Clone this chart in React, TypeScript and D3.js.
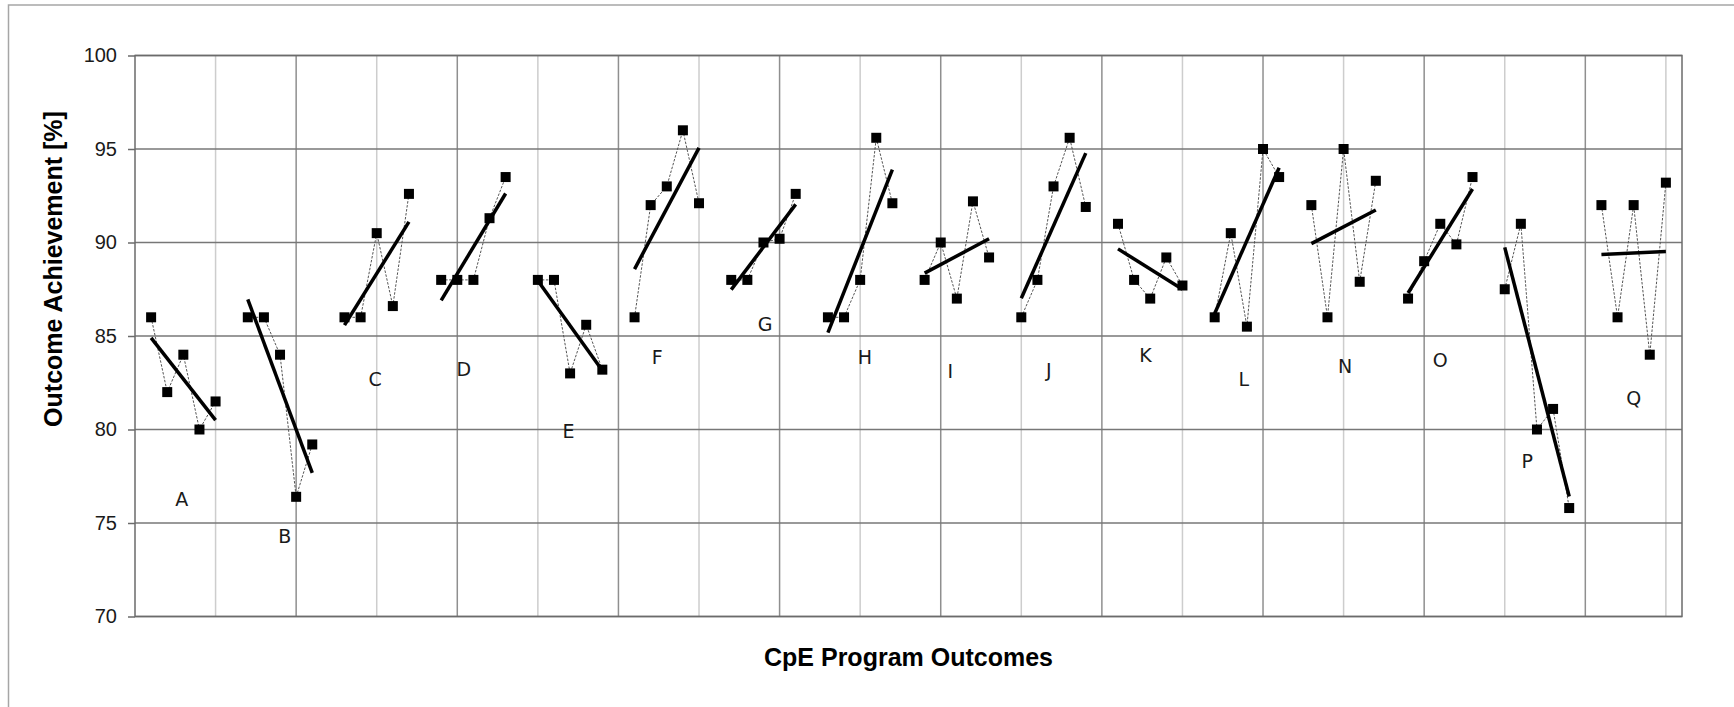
import React, { useEffect, useRef } from 'react';
import * as d3 from 'd3';

// outcome letters (there is no M)
const OUTCOMES = ['A', 'B', 'C', 'D', 'E', 'F', 'G', 'H', 'I', 'J', 'K', 'L', 'N', 'O', 'P', 'Q'];

// five assessment results per outcome [%]
const SCORES: number[][] = [
    [86, 82, 84, 80, 81.5],
    [86, 86, 84, 76.4, 79.2],
    [86, 86, 90.5, 86.6, 92.6],
    [88, 88, 88, 91.3, 93.5],
    [88, 88, 83, 85.6, 83.2],
    [86, 92, 93, 96, 92.1],
    [88, 88, 90, 90.2, 92.6],
    [86, 86, 88, 95.6, 92.1],
    [88, 90, 87, 92.2, 89.2],
    [86, 88, 93, 95.6, 91.9],
    [91, 88, 87, 89.2, 87.7],
    [86, 90.5, 85.5, 95, 93.5],
    [92, 86, 95, 87.9, 93.3],
    [87, 89, 91, 89.9, 93.5],
    [87.5, 91, 80, 81.1, 75.8],
    [92, 86, 92, 84, 93.2],
];

// where each letter sits (slot on the category axis, value on the y axis)
const LABEL_SLOT = [2.9, 9.3, 14.9, 20.4, 26.9, 32.4, 39.1, 45.3, 50.6, 56.7, 62.7, 68.8, 75.1, 81.0, 86.4, 93.0];
const LABEL_VALUE = [76.3, 74.3, 82.7, 83.25, 79.9, 83.85, 85.65, 83.85, 83.1, 83.2, 83.95, 82.7, 83.4, 83.7, 78.3, 81.7];

const Y_TICKS = [70, 75, 80, 85, 90, 95, 100];
const SLOTS = 96;

const WIDTH = 1734;
const HEIGHT = 707;
const PLOT = { left: 135, right: 1682, top: 55.5, bottom: 616.5 };

const SANS = '"Liberation Sans", Arial, sans-serif';

const App: React.FC = () => {
    const svgRef = useRef<SVGSVGElement>(null);

    useEffect(() => {
        if (!svgRef.current) return;
        const svg = d3.select(svgRef.current);
        svg.selectAll('*').remove();

        const x = d3.scaleLinear().domain([0, SLOTS]).range([PLOT.left, PLOT.right]);
        const y = d3.scaleLinear().domain([70, 100]).range([PLOT.bottom, PLOT.top]);

        // outer frame of the figure (cropped at right/bottom)
        svg.append('rect')
            .attr('x', 8.5).attr('y', 5)
            .attr('width', 2000).attr('height', 1000)
            .attr('fill', 'none')
            .attr('stroke', '#a6a6a6')
            .attr('stroke-width', 1.5);

        // vertical grid
        svg.append('g').selectAll('line')
            .data(d3.range(5, SLOTS, 5))
            .enter().append('line')
            .attr('x1', d => x(d)).attr('x2', d => x(d))
            .attr('y1', PLOT.top).attr('y2', PLOT.bottom)
            .attr('stroke', d => (d % 10 === 0 ? '#8f8f8f' : '#cdcdcd'))
            .attr('stroke-width', 1.5);

        // horizontal grid
        svg.append('g').selectAll('line')
            .data(Y_TICKS)
            .enter().append('line')
            .attr('x1', PLOT.left).attr('x2', PLOT.right)
            .attr('y1', d => y(d)).attr('y2', d => y(d))
            .attr('stroke', '#777')
            .attr('stroke-width', 1.5);

        svg.append('rect')
            .attr('x', PLOT.left).attr('y', PLOT.top)
            .attr('width', PLOT.right - PLOT.left)
            .attr('height', PLOT.bottom - PLOT.top)
            .attr('fill', 'none')
            .attr('stroke', '#6b6b6b')
            .attr('stroke-width', 1.5);

        // y axis
        const yAxis = svg.append('g')
            .attr('transform', `translate(${PLOT.left},0)`)
            .call(d3.axisLeft(y).tickValues(Y_TICKS).tickSize(7).tickPadding(11).tickSizeOuter(0));
        yAxis.select('.domain').remove();
        yAxis.selectAll('line').attr('stroke', '#6b6b6b').attr('stroke-width', 1.5);
        yAxis.selectAll('text')
            .style('font-family', SANS)
            .style('font-size', '20px')
            .style('fill', '#1a1a1a');

        const groups = svg.append('g').selectAll('g')
            .data(SCORES.map((vals, g) => ({ g, vals })))
            .enter().append('g');

        const slotOf = (g: number, i: number) => g * 6 + i + 1;

        // dotted connector
        const connector = d3.line<[number, number]>().x(d => x(d[0])).y(d => y(d[1]));
        groups.append('path')
            .attr('d', d => connector(d.vals.map((v, i) => [slotOf(d.g, i), v] as [number, number])))
            .attr('fill', 'none')
            .attr('stroke', '#555')
            .attr('stroke-width', 1)
            .attr('stroke-dasharray', '2.5,1.5');

        // markers
        const M = 10;
        groups.selectAll('rect')
            .data(d => d.vals.map((v, i) => ({ s: slotOf(d.g, i), v })))
            .enter().append('rect')
            .attr('x', d => x(d.s) - M / 2)
            .attr('y', d => y(d.v) - M / 2)
            .attr('width', M).attr('height', M)
            .attr('fill', '#000');

        // least-squares trend line across each group
        groups.append('line')
            .each(function (d) {
                const xs = d.vals.map((_, i) => i);
                const mx = d3.mean(xs)!;
                const my = d3.mean(d.vals)!;
                const slope = d3.sum(xs, (xi, i) => (xi - mx) * (d.vals[i] - my)) / d3.sum(xs, xi => (xi - mx) ** 2);
                const at = (xi: number) => my + slope * (xi - mx);
                d3.select(this)
                    .attr('x1', x(slotOf(d.g, 0))).attr('y1', y(at(0)))
                    .attr('x2', x(slotOf(d.g, 4))).attr('y2', y(at(4)));
            })
            .attr('stroke', '#000')
            .attr('stroke-width', 3.5)
            .attr('stroke-linecap', 'butt');

        // outcome letters
        svg.append('g').selectAll('text')
            .data(OUTCOMES)
            .enter().append('text')
            .attr('x', (_, i) => x(LABEL_SLOT[i]))
            .attr('y', (_, i) => y(LABEL_VALUE[i]))
            .attr('dy', '0.36em')
            .attr('text-anchor', 'middle')
            .text(d => d)
            .style('font-family', '"DejaVu Sans", Verdana, sans-serif')
            .style('font-size', '19px')
            .style('fill', '#1a1a1a');

        // axis titles
        svg.append('text')
            .attr('x', (PLOT.left + PLOT.right) / 2)
            .attr('y', 666)
            .attr('text-anchor', 'middle')
            .text('CpE Program Outcomes')
            .style('font-family', SANS)
            .style('font-size', '25px')
            .style('font-weight', 'bold')
            .style('fill', '#000');

        svg.append('text')
            .attr('transform', 'translate(62,269) rotate(-90)')
            .attr('text-anchor', 'middle')
            .text('Outcome Achievement [%]')
            .style('font-family', SANS)
            .style('font-size', '25px')
            .style('font-weight', 'bold')
            .style('fill', '#000');
    }, []);

    return (
        <svg
            ref={svgRef}
            width={WIDTH}
            height={HEIGHT}
            style={{ position: 'absolute', left: 0, top: 0, background: '#fff' }}
        />
    );
};

export default App;
